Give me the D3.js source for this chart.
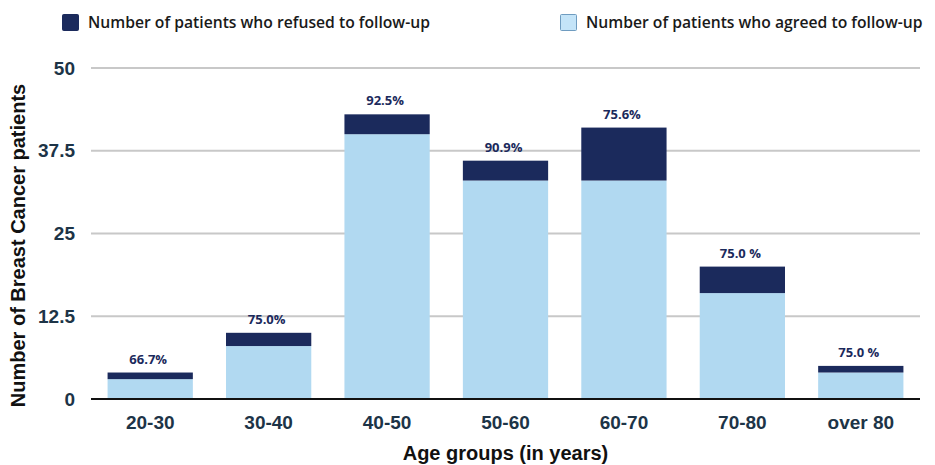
<!DOCTYPE html>
<html>
<head>
<meta charset="utf-8">
<script src="https://cdn.jsdelivr.net/npm/d3@7"></script>
<style>
  body { margin: 0; background: #fff; }
</style>
</head>
<body>
<svg id="chart"></svg>
<script>
const ageGroups = ['20-30', '30-40', '40-50', '50-60', '60-70', '70-80', 'over 80'];
const agreed = [3, 8, 40, 33, 33, 16, 4];
const refused = [1, 2, 3, 3, 8, 4, 1];
const percentLabels = ['66.7%', '75.0%', '92.5%', '90.9%', '75.6%', '75.0 %', '75.0 %'];
const yTicks = [0, 12.5, 25, 37.5, 50];

const margin = { top: 68, right: 15, bottom: 66, left: 91 };
const width = 935 - margin.left - margin.right;
const height = 465 - margin.top - margin.bottom;

const darkBlue = '#1b2a5c';
const lightBlue = '#b1d9f1';

const root = d3.select('#chart').
  attr('width', 935).
  attr('height', 465);

const svg = root.append('g').
  attr('transform', `translate(${margin.left},${margin.top})`);

const xScale = d3.scaleBand().
  domain(ageGroups).
  range([0, width]).
  paddingInner(0.28).
  paddingOuter(0.14);

const yScale = d3.scaleLinear().
  domain([0, 50]).
  range([height, 0]);

// gridlines
svg.append('g').
  selectAll('line').
  data(yTicks.filter(d => d > 0)).
  enter().
  append('line').
  attr('x1', 0).
  attr('x2', width).
  attr('y1', d => yScale(d)).
  attr('y2', d => yScale(d)).
  attr('stroke', '#c8c8c8').
  attr('stroke-width', 2);

const rows = ageGroups.map((g, i) => ({
  group: g,
  agreed: agreed[i],
  refused: refused[i],
  label: percentLabels[i],
}));

// agreed part (bottom)
svg.selectAll('.agreed').
  data(rows).
  enter().
  append('rect').
  attr('class', 'agreed').
  attr('x', d => xScale(d.group)).
  attr('width', xScale.bandwidth()).
  attr('y', d => yScale(d.agreed)).
  attr('height', d => yScale(0) - yScale(d.agreed)).
  attr('fill', lightBlue);

// refused part stacked on top
svg.selectAll('.refused').
  data(rows).
  enter().
  append('rect').
  attr('class', 'refused').
  attr('x', d => xScale(d.group)).
  attr('width', xScale.bandwidth()).
  attr('y', d => yScale(d.agreed + d.refused)).
  attr('height', d => yScale(d.agreed) - yScale(d.agreed + d.refused)).
  attr('fill', darkBlue);

svg.selectAll('.pct').
  data(rows).
  enter().
  append('text').
  attr('class', 'pct').
  attr('x', d => xScale(d.group) + xScale.bandwidth() / 2 - 2).
  attr('y', d => yScale(d.agreed + d.refused) - 9).
  attr('text-anchor', 'middle').
  style('font-family', '"Open Sans", sans-serif').
  style('font-weight', 700).
  style('font-size', '13px').
  style('fill', darkBlue).
  text(d => d.label);

// baseline
svg.append('line').
  attr('x1', 0).
  attr('x2', width).
  attr('y1', yScale(0)).
  attr('y2', yScale(0)).
  attr('stroke', '#111').
  attr('stroke-width', 2);

const xAxis = svg.append('g').
  attr('transform', `translate(0,${height})`).
  call(d3.axisBottom(xScale).tickSize(0).tickPadding(17));
xAxis.select('.domain').remove();
xAxis.selectAll('text').
  style('font-family', '"Liberation Sans", Arial, sans-serif').
  style('font-weight', 700).
  style('font-size', '19px').
  style('fill', '#1d3447');

const yAxis = svg.append('g').
  call(d3.axisLeft(yScale).tickValues(yTicks).tickSize(0).tickPadding(16).tickFormat(d => d));
yAxis.select('.domain').remove();
yAxis.selectAll('text').
  style('font-family', '"Liberation Sans", Arial, sans-serif').
  style('font-weight', 700).
  style('font-size', '19px').
  style('fill', '#1d3447');

svg.append('text').
  attr('x', width / 2).
  attr('y', height + 61).
  attr('text-anchor', 'middle').
  style('font-family', '"Liberation Sans", Arial, sans-serif').
  style('font-weight', 700).
  style('font-size', '20px').
  style('fill', '#111').
  text('Age groups (in years)');

svg.append('text').
  attr('transform', 'rotate(-90)').
  attr('x', -height / 2 - 12).
  attr('y', -margin.left + 25).
  attr('text-anchor', 'middle').
  style('font-family', '"Liberation Sans", Arial, sans-serif').
  style('font-weight', 700).
  style('font-size', '20px').
  style('fill', '#111').
  text('Number of Breast Cancer patients');

// legend
const legendItems = [
  { name: 'Number of patients who refused to follow-up', color: darkBlue, stroke: darkBlue, x: 62 },
  { name: 'Number of patients who agreed to follow-up', color: '#c4e4f8', stroke: '#6f9cc0', x: 560 },
];
const legend = root.selectAll('.legend').
  data(legendItems).
  enter().
  append('g').
  attr('class', 'legend').
  attr('transform', d => `translate(${d.x},14)`);
legend.append('rect').
  attr('x', 0.5).
  attr('y', 0.5).
  attr('width', 16).
  attr('height', 16).
  attr('rx', 1).
  attr('fill', d => d.color).
  attr('stroke', d => d.stroke);
legend.append('text').
  attr('x', 26).
  attr('y', 14).
  style('font-family', '"Open Sans", sans-serif').
  style('font-weight', 600).
  style('font-size', '15.7px').
  style('fill', '#1a1a1a').
  text(d => d.name);
</script>
</body>
</html>
